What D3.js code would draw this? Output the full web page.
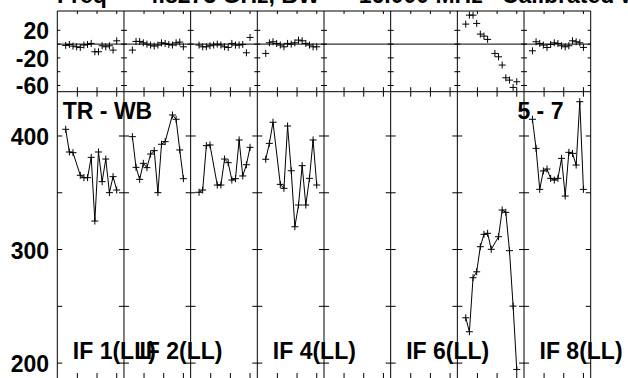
<!DOCTYPE html>
<html><head><meta charset="utf-8">
<script src="https://cdn.jsdelivr.net/npm/d3@7"></script>
<style>html,body{margin:0;padding:0;background:#fff;} svg{display:block;font-family:"Liberation Sans",Arial,Helvetica,sans-serif;}</style>
</head><body><svg id="c" width="628" height="378"></svg>
<script>
// ---------- data ----------
const ifNames = ["IF 1","IF 2","IF 3","IF 4","IF 5","IF 6","IF 7","IF 8"];
const labeledIFs = ["IF 1","IF 2","IF 4","IF 6","IF 8"];
const polarization = "LL";
const channels = [1,2,3,4,5,6,7,8,9,10,11,12,13,14,15];

const phaseIF1 = [-1.9,-0.5,-2.9,-3.9,-4.8,-1.4,-0.5,1.0,-11.1,-11.1,-2.4,-3.9,-2.4,-8.7,4.8];
const phaseIF2 = [-8.7,3.9,3.9,1.9,0,-1.4,-2.9,-1.4,1.9,1.0,-0.5,-1.4,1.9,2.9,-3.9];
const phaseIF3 = [-1.4,-3.9,-3.9,-2.4,-1.4,0,-1.4,-3.9,-4.8,1.0,-1.4,-1.4,-0.5,-12.6,9.7];
const phaseIF4 = [-13.5,1.9,3.4,1.0,-1.4,-3.9,1.0,0,1.9,5.8,4.8,1.0,-1.4,-3.9,-3.9];
const phaseIF5 = [null,null,null,null,null,null,null,null,null,null,null,null,null,null,null];
const phaseIF6 = [null,null,null,null,null,null,null,null,null,null,null,null,null,null,null];
const phaseIF7 = [29,42,42,30,14.5,11.6,6.8,null,-13.5,-18.4,-30.4,-48.8,-52.2,-62.8,-54.6];
const phaseIF8 = [-9.7,3.4,1.0,-1.4,-4.8,-0.5,1.9,1.0,-2.4,-3.9,-2.4,4.8,3.4,1.9,-4.8];

const ampIF1 = [405.9,385.9,385.3,null,365.4,363.3,363.3,381.2,325.1,385.9,359.8,379.7,350.1,364.2,352.4];
const ampIF2 = [399.4,372.4,361.8,375.9,372.1,384.1,387.1,350.1,392.7,395.0,null,418.5,414.7,387.7,362.4];
const ampIF3 = [350.4,352.4,391.5,392.1,null,356.8,356.8,379.7,376.5,361.2,362.4,396.5,364.8,374.7,390.0];
const ampIF4 = [379.5,393.5,412.1,null,357.4,353.9,408.8,369.4,320.1,339.2,373.9,339.2,362.7,396.5,356.8];
const ampIF5 = [null,null,null,null,null,null,null,null,null,null,null,null,null,null,null];
const ampIF6 = [null,null,null,null,null,null,null,null,null,null,null,null,null,null,null];
const ampIF7 = [239.9,227.6,275.2,280.4,302.5,313.4,314.3,300.2,null,311.3,334.8,332.8,299.0,250.2,194.4];
const ampIF8 = [414.7,389.1,353.0,369.2,370.9,362.7,361.2,362.7,380.3,347.1,385.6,384.7,374.4,430.2,353.0];

const phaseTicks = [20,0,-20,-40,-60];
const phaseTickLabels = [20,-20,-60];
const ampTicks = [400,350,300,250,200];
const ampTickLabels = [400,300,200];
const chanTicks = [4.2,9.6,15.0];

const titleText = "Freq =   4.8273 GHz, BW =   16.000 MHz   Calibrated with CL 1";
const baselineText = "TR - WB";
const antennaText = "5 - 7";

const phaseSeries = [phaseIF1,phaseIF2,phaseIF3,phaseIF4,phaseIF5,phaseIF6,phaseIF7,phaseIF8];
const ampSeries = [ampIF1,ampIF2,ampIF3,ampIF4,ampIF5,ampIF6,ampIF7,ampIF8];

// ---------- layout ----------
const svg = d3.select("#c");
const L = 57.3, R = 590.7, T = 11, M = 91.7, B = 379;
const xIF = d3.scaleBand().domain(ifNames).range([L, R]);
const bw = xIF.bandwidth();
const xCh = d3.scaleLinear().domain([-1.306, 16.995]).range([0, bw]);
const yPh = d3.scaleLinear().domain([-69, 48]).range([M, T]);
const yAmp = d3.scaleLinear().domain([186, 439]).range([B, M]);

const g = svg.append("g").attr("stroke", "#000").attr("fill", "none").attr("stroke-width", 1);

// frame
g.append("line").attr("x1", L).attr("x2", R).attr("y1", T).attr("y2", T);
g.append("line").attr("x1", L).attr("x2", R).attr("y1", M).attr("y2", M);
const bounds = ifNames.map(n => xIF(n)).concat([R]);
bounds.forEach((bx, i) => {
  g.append("line").attr("x1", bx).attr("x2", bx).attr("y1", T).attr("y2", B);
  const left = i > 0, right = i < bounds.length - 1;
  phaseTicks.forEach(v => {
    g.append("line").attr("x1", bx - (left ? 3 : 0)).attr("x2", bx + (right ? 3 : 0))
      .attr("y1", yPh(v)).attr("y2", yPh(v));
  });
  ampTicks.forEach(v => {
    g.append("line").attr("x1", bx - (left ? 5 : 0)).attr("x2", bx + (right ? 5 : 0))
      .attr("y1", yAmp(v)).attr("y2", yAmp(v));
  });
});

// zero phase line
g.append("line").attr("x1", L).attr("x2", R).attr("y1", yPh(0)).attr("y2", yPh(0));

// channel ticks
ifNames.forEach(n => {
  chanTicks.forEach(c => {
    const x = xIF(n) + xCh(c);
    g.append("line").attr("x1", x).attr("x2", x).attr("y1", T).attr("y2", T + 3);
    g.append("line").attr("x1", x).attr("x2", x).attr("y1", M - 4.5).attr("y2", M + 5);
    g.append("line").attr("x1", x).attr("x2", x).attr("y1", B - 6).attr("y2", B);
  });
});

// data
const plus = "M-3.5,0H3.5M0,-3.5V3.5";
const line = d3.line().x(d => d.x).y(d => d.y);
ifNames.forEach((n, i) => {
  const x0 = xIF(n);
  const ph = channels.map((c, k) => ({x: x0 + xCh(c), v: phaseSeries[i][k]})).filter(d => d.v != null);
  ph.forEach(d => g.append("path").attr("d", plus).attr("transform", `translate(${d.x},${yPh(d.v)})`));
  const am = channels.map((c, k) => ({x: x0 + xCh(c), v: ampSeries[i][k]})).filter(d => d.v != null)
    .map(d => ({x: d.x, y: yAmp(d.v)}));
  if (am.length) {
    g.append("path").attr("d", line(am));
    am.forEach(d => g.append("path").attr("d", plus).attr("transform", `translate(${d.x},${d.y})`));
  }
});

// text
const txt = svg.append("g").attr("fill", "#000").attr("font-weight", "bold").attr("font-size", 23);
phaseTickLabels.forEach(v => txt.append("text").attr("x", 49).attr("y", yPh(v) + 9).attr("text-anchor", "end").text(v));
ampTickLabels.forEach(v => txt.append("text").attr("x", 49).attr("y", yAmp(v) + 9).attr("text-anchor", "end").text(v));
txt.append("text").attr("x", 57).attr("y", 3).style("white-space", "pre").text(titleText);
txt.append("text").attr("x", L + 5.5).attr("y", 119).text(baselineText);
txt.append("text").attr("x", xIF("IF 8") - 6.6).attr("y", 119).text(antennaText);
labeledIFs.forEach(n => {
  txt.append("text").attr("x", xIF(n) + 15.5).attr("y", 359).text(`${n}(${polarization})`);
});
</script>
</body></html>
